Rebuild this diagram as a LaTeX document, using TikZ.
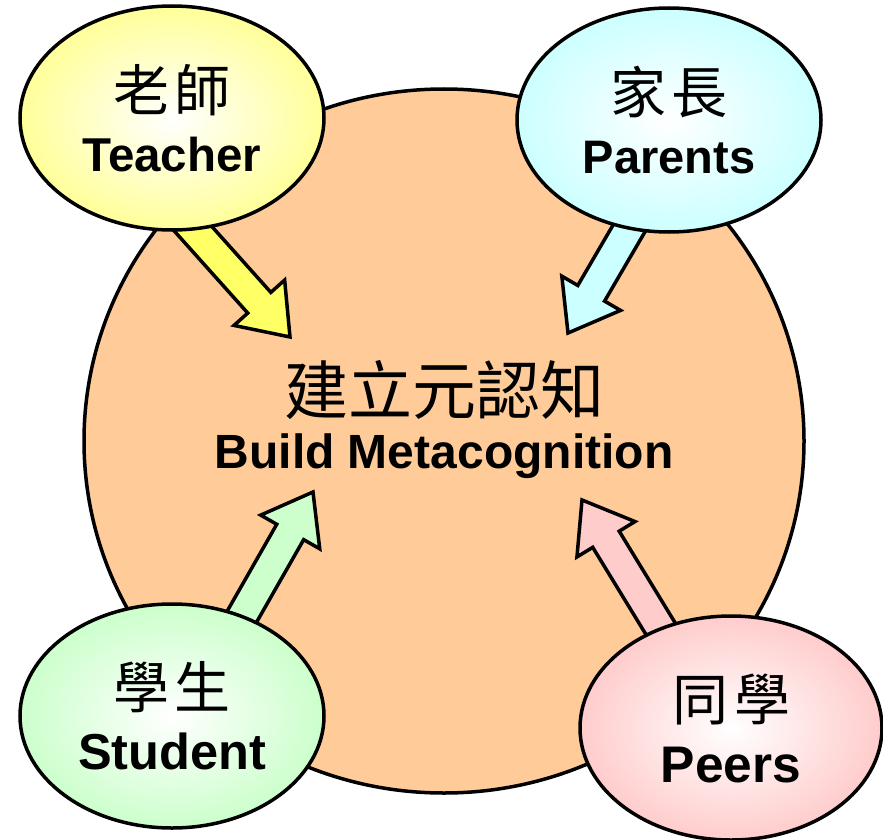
\documentclass[tikz,border=0pt]{standalone}
\usepackage{fontspec}
\setmainfont{Liberation Sans}
\newfontfamily\cjk{Noto Sans CJK TC}
\usetikzlibrary{shapes.geometric,calc}
\definecolor{peach}{HTML}{FFCC99}
\definecolor{tyellow}{HTML}{FFFF99}
\definecolor{ayellow}{HTML}{FFFF66}
\definecolor{pcyan}{HTML}{CCFFFF}
\definecolor{sgreen}{HTML}{CCFFCC}
\definecolor{ppink}{HTML}{FFCCCC}
\newcommand{\blockarrow}[3]{%
  \coordinate (#2-b) at ($(#2)!46pt!(#1)$);
  \draw[arrowline, fill=#3]
    ($(#1)!15.5pt!90:(#2)$) -- ($(#2-b)!15.5pt!90:(#2)$) -- ($(#2-b)!34pt!90:(#2)$)
    -- (#2) -- ($(#2-b)!34pt!-90:(#2)$) -- ($(#2-b)!15.5pt!-90:(#2)$)
    -- ($(#1)!15.5pt!-90:(#2)$) -- cycle;}
\begin{document}
\begin{tikzpicture}[x=1pt,y=-1pt,
  outline/.style={draw=black, line width=3.5pt},
  bubble/.style={ellipse, outline, minimum width=304pt, minimum height=224pt,
    inner sep=0pt, align=center, shading=radial, inner color=white, outer color=#1},
  arrowline/.style={draw=black, line width=3.5pt, line join=miter},
]
\useasboundingbox (0,0) rectangle (883,840);
% big circle
\node[ellipse, outline, fill=peach, minimum width=720pt, minimum height=704pt, inner sep=0pt] (core) at (444,441) {};
% arrows
\coordinate (tT) at (170,203);  \coordinate (hT) at (290,337);
\coordinate (tP) at (659,177);  \coordinate (hP) at (568,333);
\coordinate (tS) at (224,648);  \coordinate (hS) at (313,492);
\coordinate (tR) at (676,654);  \coordinate (hR) at (582,500);
\blockarrow{tT}{hT}{ayellow}
\blockarrow{tP}{hP}{pcyan}
\blockarrow{tS}{hS}{sgreen}
\blockarrow{tR}{hR}{ppink}
% bubbles
\node[bubble=tyellow, font=\bfseries\fontsize{47.5}{60}\selectfont] (teacher) at (172,118)
  {{\cjk\mdseries\fontsize{56}{60}\selectfont 老\hspace{6pt}師}\\Teacher};
\node[bubble=pcyan, font=\bfseries\fontsize{47}{60}\selectfont] (parents) at (669,120)
  {{\cjk\mdseries\fontsize{56}{60}\selectfont 家\hspace{6pt}長}\\Parents};
\node[bubble=sgreen, font=\bfseries\fontsize{50.5}{61}\selectfont] (student) at (172,716)
  {{\cjk\mdseries\fontsize{56}{61}\selectfont 學\hspace{6pt}生}\\Student};
\node[bubble=ppink, font=\bfseries\fontsize{51.5}{62}\selectfont, minimum width=302pt] (peers) at (731,728)
  {{\cjk\mdseries\fontsize{56}{62}\selectfont 同\hspace{6pt}學}\\Peers};
% centre text
\node[align=center, inner sep=0pt, font=\bfseries\fontsize{48}{54}\selectfont] (goal) at (444,420)
  {{\cjk\mdseries\fontsize{64}{54}\selectfont 建立元認知}\\Build Metacognition};
\end{tikzpicture}
\end{document}
